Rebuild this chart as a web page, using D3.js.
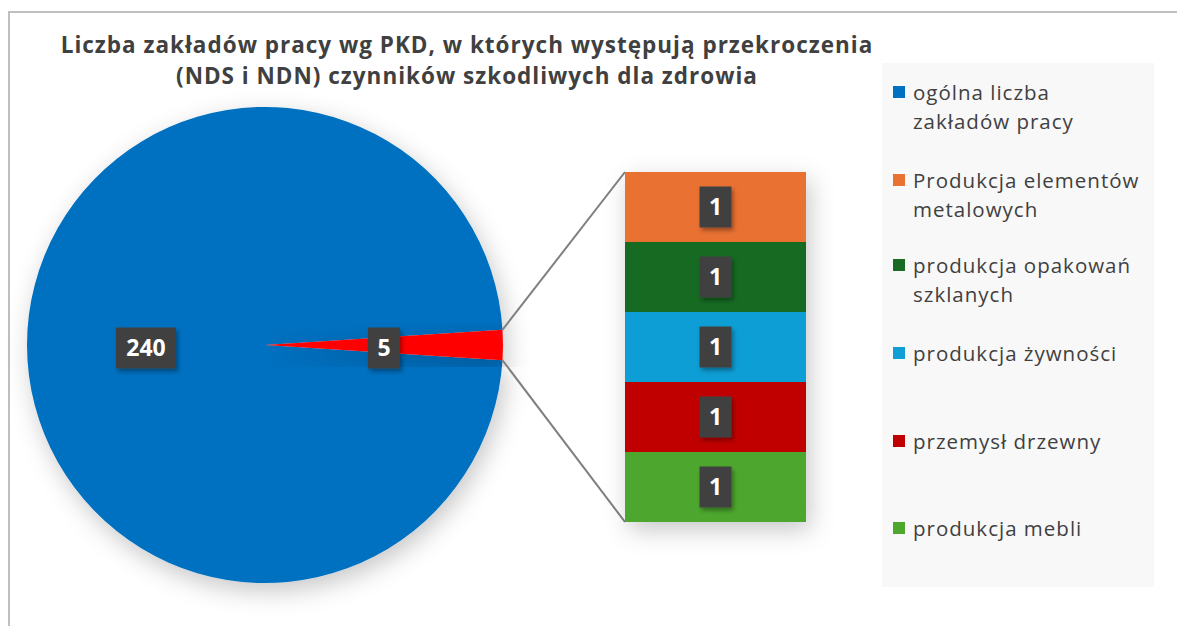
<!DOCTYPE html>
<html>
<head>
<meta charset="utf-8">
<script src="https://cdn.jsdelivr.net/npm/d3@7"></script>
<style>
  body { margin: 0; background: #fff; }
  svg { display: block; font-family: "Open Sans", "Noto Sans", sans-serif; }
</style>
</head>
<body>
<div id="chart"></div>
<script>
// pie data: total vs the group shown in the bar
var pieLabels = ["ogólna liczba zakładów pracy", "pozostałe"];
var pieValues = [240, 5];
var pieColors = ["#0070C0", "#FF0000"];

// bar (breakdown of the small slice)
var barLabels = ["Produkcja elementów metalowych", "produkcja opakowań szklanych", "produkcja żywności", "przemysł drzewny", "produkcja mebli"];
var barValues = [1, 1, 1, 1, 1];
var barColors = ["#E97132", "#196B24", "#0F9ED5", "#C00000", "#4EA72E"];

// legend rows (text split into lines as in the picture)
var legendItems = [
  {lines: ["ogólna liczba", "zakładów pracy"], color: "#0070C0"},
  {lines: ["Produkcja elementów", "metalowych"], color: "#E97132"},
  {lines: ["produkcja opakowań", "szklanych"], color: "#196B24"},
  {lines: ["produkcja żywności"], color: "#0F9ED5"},
  {lines: ["przemysł drzewny"], color: "#C00000"},
  {lines: ["produkcja mebli"], color: "#4EA72E"}
];
var legendTop = [100, 188, 273, 361, 449, 536];

var titleLines = ["Liczba zakładów pracy wg PKD, w których występują przekroczenia",
                  "(NDS i NDN) czynników szkodliwych dla zdrowia"];

var W = 1177, H = 626;
var svg = d3.select("#chart").append("svg").attr("width", W).attr("height", H);

var defs = svg.append("defs");
var sh = defs.append("filter").attr("id", "shadow").attr("x", "-20%").attr("y", "-20%").attr("width", "140%").attr("height", "140%");
sh.append("feDropShadow").attr("dx", 4).attr("dy", 8).attr("stdDeviation", 12).attr("flood-color", "#000").attr("flood-opacity", 0.22);
var lsh = defs.append("filter").attr("id", "lshadow").attr("x", "-30%").attr("y", "-30%").attr("width", "160%").attr("height", "160%");
lsh.append("feDropShadow").attr("dx", 2).attr("dy", 3).attr("stdDeviation", 2).attr("flood-color", "#000").attr("flood-opacity", 0.35);

// chart frame
svg.append("rect").attr("x", 9).attr("y", 12).attr("width", W + 20).attr("height", H + 20)
  .attr("fill", "#fff").attr("stroke", "#bfbfbf").attr("stroke-width", 2);

// title
svg.append("text").attr("x", 467).attr("y", 53).attr("text-anchor", "middle")
  .attr("font-size", 22.5).attr("font-weight", "bold").attr("fill", "#404040")
  .attr("letter-spacing", 1)
  .selectAll("tspan").data(titleLines).enter().append("tspan")
  .attr("x", 467).attr("dy", (d, i) => i ? 31 : 0).text(d => d);

// pie
var cx = 265, cy = 345, r = 238;
var total = d3.sum(pieValues);
var half = Math.PI * pieValues[1] / total;   // half of small slice
var pie = d3.pie().sort(null)
  .startAngle(Math.PI / 2 + half)
  .endAngle(Math.PI / 2 + half + 2 * Math.PI);
var arcs = pie(pieValues);
var arc = d3.arc().innerRadius(0).outerRadius(r);

var gPie = svg.append("g").attr("transform", "translate(" + cx + "," + cy + ")");
gPie.selectAll("path").data(arcs).enter().append("path")
  .attr("d", arc).attr("fill", (d, i) => pieColors[i])
  .attr("filter", "url(#shadow)");

// bar of pie
var barX = 625, barW = 181;
var y = d3.scaleLinear().domain([0, d3.sum(barValues)]).range([172, 522]);
var cum = d3.cumsum(barValues);
var segs = barValues.map((v, i) => ({v: v, y0: cum[i] - v, y1: cum[i], c: barColors[i]}));

// connector lines
var small = arcs[1];
var pA = [cx + r * Math.sin(small.startAngle), cy - r * Math.cos(small.startAngle)];
var pB = [cx + r * Math.sin(small.endAngle), cy - r * Math.cos(small.endAngle)];
var topPt = pA[1] < pB[1] ? pA : pB, botPt = pA[1] < pB[1] ? pB : pA;
svg.append("line").attr("x1", topPt[0]).attr("y1", topPt[1]).attr("x2", barX).attr("y2", y(0))
  .attr("stroke", "#7f7f7f").attr("stroke-width", 2);
svg.append("line").attr("x1", botPt[0]).attr("y1", botPt[1]).attr("x2", barX).attr("y2", y(d3.sum(barValues)))
  .attr("stroke", "#7f7f7f").attr("stroke-width", 2);

var gBar = svg.append("g").attr("filter", "url(#shadow)");
gBar.selectAll("rect").data(segs).enter().append("rect")
  .attr("x", barX).attr("width", barW)
  .attr("y", d => y(d.y0)).attr("height", d => y(d.y1) - y(d.y0))
  .attr("fill", d => d.c);

// data labels
function dataLabel(x, yy, txt) {
  var g = svg.append("g").attr("transform", "translate(" + x + "," + yy + ")");
  var w = txt.length * 14 + 18, h = 41;
  g.append("rect").attr("x", -w / 2).attr("y", -h / 2).attr("width", w).attr("height", h)
    .attr("fill", "#404040").attr("filter", "url(#lshadow)");
  g.append("text").attr("text-anchor", "middle").attr("dy", "0.36em")
    .attr("font-size", 23).attr("font-weight", "bold").attr("fill", "#fff").text(txt);
}
arcs.forEach(function(a) {
  var m = (a.startAngle + a.endAngle) / 2;
  dataLabel(cx + r * 0.5 * Math.sin(m), cy + 3 - r * 0.5 * Math.cos(m), String(a.data));
});
segs.forEach(function(s) {
  dataLabel(barX + barW / 2, (y(s.y0) + y(s.y1)) / 2, String(s.v));
});

// legend
svg.append("rect").attr("x", 882).attr("y", 63).attr("width", 272).attr("height", 524).attr("fill", "#f8f8f8");
var lg = svg.selectAll(".leg").data(legendItems).enter().append("g").attr("class", "leg")
  .attr("transform", (d, i) => "translate(893," + legendTop[i] + ")");
lg.append("rect").attr("x", 0).attr("y", -14).attr("width", 12).attr("height", 12).attr("fill", d => d.color);
lg.append("text").attr("font-size", 20.5).attr("fill", "#404040").attr("letter-spacing", 1)
  .selectAll("tspan").data(d => d.lines).enter().append("tspan")
  .attr("x", 20).attr("dy", (d, i) => i ? 29 : 0).text(d => d);
</script>
</body>
</html>
